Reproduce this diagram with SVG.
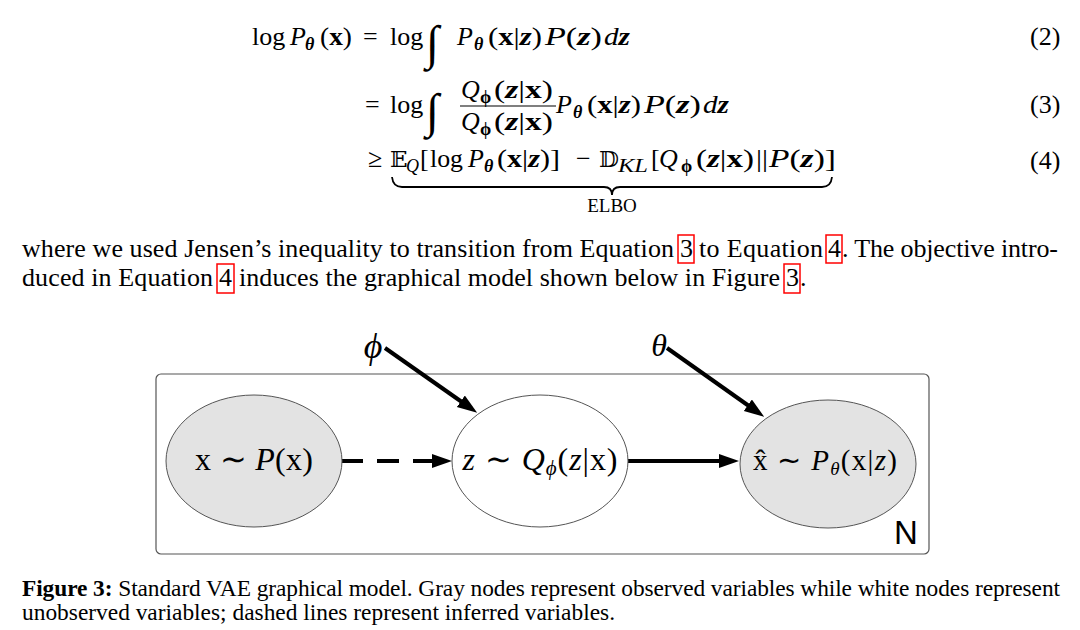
<svg xmlns="http://www.w3.org/2000/svg" width="1080" height="630" viewBox="0 0 1080 630">
<style>
text{font-family:"Liberation Serif","Times New Roman",serif;fill:#000}
.eq{font-size:26px}
.i{font-style:italic}
.b{font-weight:bold}
.bi{font-weight:bold;font-style:italic}
.sub{font-size:18px}
.bb{font-family:"DejaVu Serif","DejaVu Sans",serif;font-size:23px}
.int{font-size:48px}
.par{font-size:26px}
.cap{font-size:23.4px}
.ref{fill:none;stroke:#ff0000;stroke-width:1.5}
.plate{fill:none;stroke:#555;stroke-width:1.2}
.obs{fill:#e3e3e3;stroke:#555;stroke-width:1}
.lat{fill:#fff;stroke:#555;stroke-width:1}
.edge{stroke:#000;stroke-width:4;fill:none}
</style>
<defs>
<marker id="ah" markerUnits="userSpaceOnUse" markerWidth="22" markerHeight="16" refX="10" refY="7" orient="auto">
<path d="M0,0 L20,7 L0,14 z" fill="#000"/>
</marker>
</defs>
<rect width="1080" height="630" fill="#fff"/>

<!-- Equation 2 -->
<g id="eq2">
<text x="252" y="45" class="eq">log</text>
<text x="290" y="45" class="eq i">P</text>
<text x="305" y="50" class="sub bi">θ</text>
<text x="320" y="45" class="eq" textLength="32" lengthAdjust="spacingAndGlyphs">(<tspan class="b">x</tspan>)</text>
<text x="363" y="45" class="eq">=</text>
<text x="390" y="45" class="eq">log</text>
<text x="426" y="59" class="int i">∫</text>
<text x="457" y="45" class="eq i">P</text>
<text x="474" y="50" class="sub bi">θ</text>
<text x="488" y="45" class="eq" textLength="54" lengthAdjust="spacingAndGlyphs">(<tspan class="b">x</tspan>|<tspan class="bi">z</tspan>)</text>
<text x="545" y="45" class="eq" textLength="57" lengthAdjust="spacingAndGlyphs"><tspan class="i">P</tspan>(<tspan class="bi">z</tspan>)</text>
<text x="604" y="45" class="eq" textLength="26" lengthAdjust="spacingAndGlyphs"><tspan class="i">d</tspan><tspan class="bi">z</tspan></text>
<text x="1030" y="45" class="eq">(2)</text>
</g>

<!-- Equation 3 -->
<g id="eq3">
<text x="365" y="113" class="eq">=</text>
<text x="390" y="113" class="eq">log</text>
<text x="426" y="127" class="int i">∫</text>
<text x="461" y="98" class="eq i">Q</text>
<text x="480" y="103" class="sub b">ϕ</text>
<text x="494" y="98" class="eq" textLength="59" lengthAdjust="spacingAndGlyphs">(<tspan class="bi">z</tspan>|<tspan class="b">x</tspan>)</text>
<line x1="460" y1="106" x2="556" y2="106" stroke="#000" stroke-width="1.2"/>
<text x="461" y="130" class="eq i">Q</text>
<text x="480" y="135" class="sub b">ϕ</text>
<text x="494" y="130" class="eq" textLength="59" lengthAdjust="spacingAndGlyphs">(<tspan class="bi">z</tspan>|<tspan class="b">x</tspan>)</text>
<text x="556" y="113" class="eq i">P</text>
<text x="573" y="118" class="sub bi">θ</text>
<text x="587" y="113" class="eq" textLength="54" lengthAdjust="spacingAndGlyphs">(<tspan class="b">x</tspan>|<tspan class="bi">z</tspan>)</text>
<text x="644" y="113" class="eq" textLength="57" lengthAdjust="spacingAndGlyphs"><tspan class="i">P</tspan>(<tspan class="bi">z</tspan>)</text>
<text x="703" y="113" class="eq" textLength="26" lengthAdjust="spacingAndGlyphs"><tspan class="i">d</tspan><tspan class="bi">z</tspan></text>
<text x="1030" y="113" class="eq">(3)</text>
</g>

<!-- Equation 4 -->
<g id="eq4">
<text x="368" y="167" class="eq">≥</text>
<text x="390" y="167" class="bb">𝔼</text>
<text x="406" y="172" class="sub i">Q</text>
<text x="420" y="167" class="eq">[</text>
<text x="430" y="167" class="eq" textLength="33" lengthAdjust="spacingAndGlyphs">log</text>
<text x="468" y="167" class="eq i">P</text>
<text x="484" y="172" class="sub bi">θ</text>
<text x="497" y="167" class="eq" textLength="63" lengthAdjust="spacingAndGlyphs">(<tspan class="b">x</tspan>|<tspan class="bi">z</tspan>)]</text>
<text x="576" y="167" class="eq">−</text>
<text x="599" y="167" class="bb">𝔻</text>
<text x="618" y="172" class="sub i" style="font-size:19px" textLength="30" lengthAdjust="spacingAndGlyphs">KL</text>
<text x="651" y="167" class="eq">[</text>
<text x="659" y="167" class="eq i">Q</text>
<text x="681" y="172" class="sub b">ϕ</text>
<text x="696" y="167" class="eq" textLength="58" lengthAdjust="spacingAndGlyphs">(<tspan class="bi">z</tspan>|<tspan class="b">x</tspan>)</text>
<text x="756" y="167" class="eq" textLength="12" lengthAdjust="spacingAndGlyphs">||</text>
<text x="769" y="167" class="eq" textLength="67" lengthAdjust="spacingAndGlyphs"><tspan class="i">P</tspan>(<tspan class="bi">z</tspan>)]</text>
<path d="M392,177 Q393,187 402,187 L604,187 Q612,187 612,195 Q612,187 620,187 L822,187 Q831,187 832,177" fill="none" stroke="#000" stroke-width="1.8"/>
<text x="612" y="212" text-anchor="middle" style="font-size:19px">ELBO</text>
<text x="1030" y="169" class="eq">(4)</text>
</g>

<!-- Paragraph -->
<g id="para">
<text x="22" y="257" class="par" textLength="652" lengthAdjust="spacing">where we used Jensen’s inequality to transition from Equation</text>
<text x="680" y="257" class="par">3</text>
<rect class="ref" x="678" y="235" width="16" height="28"/>
<text x="699" y="257" class="par" textLength="124" lengthAdjust="spacing">to Equation</text>
<text x="828" y="257" class="par">4</text>
<rect class="ref" x="826" y="235" width="16" height="28"/>
<text x="842" y="257" class="par" textLength="216" lengthAdjust="spacing">. The objective intro-</text>
<text x="22" y="286" class="par" textLength="191" lengthAdjust="spacing">duced in Equation</text>
<text x="219" y="286" class="par">4</text>
<rect class="ref" x="217" y="264" width="17" height="29"/>
<text x="239" y="286" class="par" textLength="541" lengthAdjust="spacing">induces the graphical model shown below in Figure</text>
<text x="786" y="286" class="par">3</text>
<rect class="ref" x="784" y="264" width="16" height="29"/>
<text x="800" y="286" class="par">.</text>
</g>

<!-- Plate -->
<g id="plate">
<rect class="plate" x="156" y="374" width="773" height="180" rx="5"/>
<text x="906" y="544" text-anchor="middle" style="font-family:'Liberation Sans',Arial,sans-serif;font-size:33px">N</text>
</g>

<!-- Connectors -->
<g id="connectors">
<line class="edge" x1="341" y1="461" x2="442" y2="461" stroke-dasharray="22 14" marker-end="url(#ah)"/>
<line class="edge" x1="627" y1="461" x2="729" y2="461" marker-end="url(#ah)"/>
<line class="edge" x1="385" y1="348" x2="469" y2="407" marker-end="url(#ah)"/>
<line class="edge" x1="667" y1="348" x2="756" y2="411" marker-end="url(#ah)"/>
</g>

<!-- Parameters -->
<g id="phi"><text x="373" y="358" text-anchor="middle" class="i" style="font-size:36px">ϕ</text></g>
<g id="theta"><text x="659" y="356" text-anchor="middle" class="i" style="font-size:32px">θ</text></g>

<!-- Nodes -->
<g id="node-x">
<ellipse class="obs" cx="254" cy="461" rx="88" ry="66"/>
<text x="254" y="470" text-anchor="middle" style="font-size:32px" textLength="118">x ∼ <tspan class="i">P</tspan>(x)</text>
</g>
<g id="node-z">
<ellipse class="lat" cx="540" cy="461" rx="88" ry="66"/>
<text x="540" y="470" text-anchor="middle" style="font-size:32px" textLength="155"><tspan class="i">z</tspan> ∼ <tspan class="i">Q</tspan><tspan class="i" style="font-size:21px" dy="5">ϕ</tspan><tspan dy="-5">(</tspan><tspan class="i">z</tspan>|x)</text>
</g>
<g id="node-xhat">
<ellipse class="obs" cx="828" cy="464" rx="88" ry="64"/>
<text x="825" y="470" text-anchor="middle" style="font-size:29px" textLength="144">x̂ ∼ <tspan class="i">P</tspan><tspan class="i" style="font-size:19px" dy="5">θ</tspan><tspan dy="-5">(x|</tspan><tspan class="i">z</tspan>)</text>
</g>

<!-- Caption -->
<g id="caption">
<text x="22" y="596" class="cap" textLength="1038" lengthAdjust="spacing"><tspan class="b">Figure 3:</tspan> Standard VAE graphical model. Gray nodes represent observed variables while white nodes represent</text>
<text x="22" y="620" class="cap">unobserved variables; dashed lines represent inferred variables.</text>
</g>
</svg>
